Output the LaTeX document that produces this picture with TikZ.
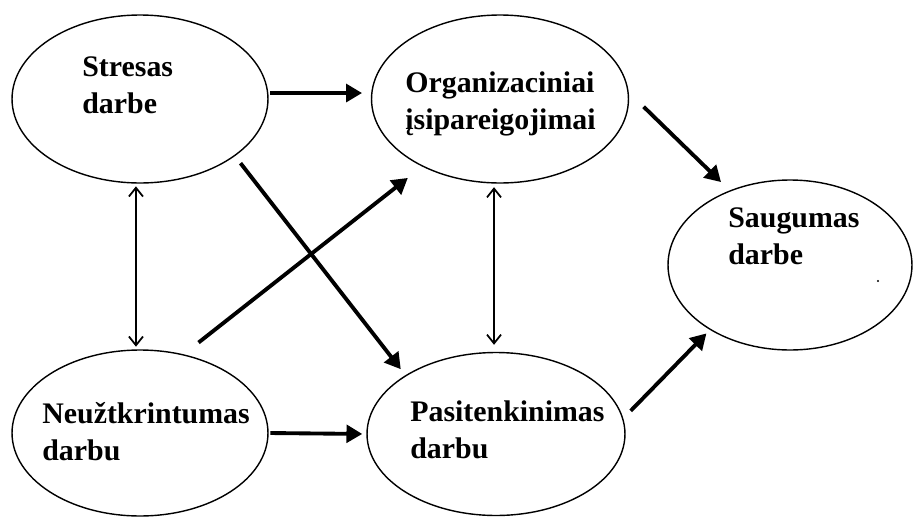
\documentclass[tikz,border=0pt]{standalone}
\usepackage{fontspec}
\usetikzlibrary{arrows.meta,shapes.geometric}
\newfontfamily\lblfont{Liberation Serif}
\tikzset{
  factor/.style={ellipse, draw, line width=0.8pt, inner sep=0pt},
  flabel/.style={font=\lblfont\bfseries\fontsize{17pt}{20.5pt}\selectfont, align=left, inner sep=0pt, anchor=base west},
  effect/.style={-{Triangle[length=9pt,width=10pt]}, line width=2.2pt},
  corr/.style={{Straight Barb[length=5pt,width=8pt]}-{Straight Barb[length=5pt,width=8pt]}, line width=1pt},
}
\begin{document}
\begin{tikzpicture}[x=0.02cm, y=-0.02cm]
      \useasboundingbox (0,0) rectangle (914,518);
      \node[factor, minimum width=5.12cm, minimum height=3.36cm] (str) at (140,99) {};
      \node[factor, minimum width=5.14cm, minimum height=3.36cm] (org) at (500,99) {};
      \node[factor, minimum width=4.88cm, minimum height=3.40cm] (sau) at (790,265) {};
      \node[factor, minimum width=5.12cm, minimum height=3.32cm] (neu) at (140,433) {};
      \node[factor, minimum width=5.16cm, minimum height=3.26cm] (pas) at (496,434) {};
      \node[flabel] (strT) at (82,113) {Stresas\\darbe};
      \node[flabel] (orgT) at (405,129) {Organizaciniai\\įsipareigojimai};
      \node[flabel] (sauT) at (728,264) {Saugumas\\darbe};
      \node[flabel] (neuT) at (42,460) {Neužtkrintumas\\darbu};
      \node[flabel] (pasT) at (410,458) {Pasitenkinimas\\darbu};
      \draw[effect, shorten <=1pt, shorten >=5pt] ([yshift=3.4pt]str.east) -- ([yshift=3.4pt]org.west);
      \draw[effect, shorten <=1pt, shorten >=2.3pt] (neu.east) -- (pas.west);
      \draw[effect, shorten <=5.1pt, shorten >=4.3pt] (str.-31) -- (pas.147.6);
      \draw[effect, shorten <=10.8pt, shorten >=10.4pt] (neu.61.2) -- (org.221.9);
      \draw[effect, shorten <=11.8pt, shorten >=6.8pt] (org.3.9) -- (sau.129.9);
      \draw[effect, shorten <=6pt, shorten >=2.8pt] (pas.7) -- (sau.219);
      \draw[corr, shorten <=1.5pt, shorten >=1.5pt] ([xshift=-2.3pt]str.south) -- ([xshift=-2.3pt]neu.north);
      \draw[corr, shorten <=2pt, shorten >=4pt] ([xshift=-3.4pt]org.south) -- ([xshift=-3.4pt]org.south |- pas.north);
      \fill (878,281) circle (0.6pt);
\end{tikzpicture}
\end{document}
